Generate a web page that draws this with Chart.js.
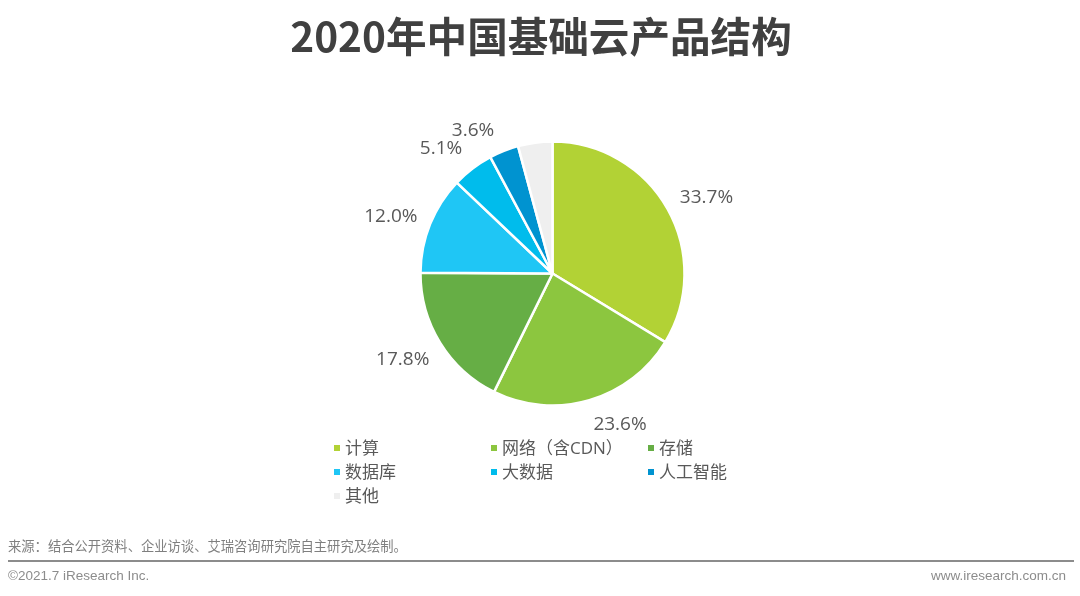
<!DOCTYPE html>
<html>
<head>
<meta charset="utf-8">
<script src="https://cdn.jsdelivr.net/npm/chart.js@4"></script>
<style>
  html, body { margin: 0; padding: 0; background: #fff; }
  #page { position: relative; width: 1080px; height: 596px; overflow: hidden; font-family: "Noto Sans CJK SC", sans-serif; }
  #page canvas { position: absolute; left: 0; top: 0; }
  .title { position: absolute; left: 0; width: 1082px; top: 7px; text-align: center; font-size: 40.6px; font-weight: 700; line-height: 56px; color: #404040; white-space: nowrap; }
  .source { position: absolute; left: 8px; top: 537px; font-size: 13.3px; line-height: 18px; color: #7f7f7f; white-space: nowrap; }
  .rule { position: absolute; left: 8px; width: 1066px; top: 560px; height: 2px; background: #8c8c8c; }
  .foot { position: absolute; top: 567.5px; font-family: "Liberation Sans", sans-serif; font-size: 13.5px; line-height: 15px; color: #8c8c8c; white-space: nowrap; }
  .legend-item { position: absolute; font-family: "Open Sans", "Noto Sans CJK SC", sans-serif; font-size: 17px; line-height: 24px; color: #595959; white-space: nowrap; }
  .legend-item i { position: absolute; left: -11px; top: 9px; width: 6px; height: 6px; }
</style>
</head>
<body>
<div id="page">
  <canvas id="pieChart" width="1080" height="596"></canvas>
  <div class="title">2020年中国基础云产品结构</div>
  <div id="legend"></div>
  <div class="source">来源：结合公开资料、企业访谈、艾瑞咨询研究院自主研究及绘制。</div>
  <div class="rule"></div>
  <div class="foot" style="left:8px">©2021.7 iResearch Inc.</div>
  <div class="foot" style="right:14px">www.iresearch.com.cn</div>
</div>
<script>
const categories = ['计算', '网络（含CDN）', '存储', '数据库', '大数据', '人工智能', '其他'];
const shares = [33.7, 23.6, 17.8, 12.0, 5.1, 3.6, 4.2];
const shareLabels = ['33.7%', '23.6%', '17.8%', '12.0%', '5.1%', '3.6%', ''];
const colors = ['#b2d235', '#8cc63f', '#66ae45', '#1fc6f5', '#00bcec', '#0093d0', '#efefef'];

// labels sit off the radial line in the original, so nudge them by hand
const labelNudgeX = [18, 24, -17, -17, -17, -22, 0];
const labelNudgeY = [1, 1, 4, 1, -1, 2, 0];

const legendCols = [345, 502, 659];
const legendRows = [436, 460, 484];

// html legend, chart.js legend can't do these uneven columns
const legendBox = document.getElementById('legend');
categories.forEach((name, i) => {
    const item = document.createElement('div');
    item.className = 'legend-item';
    item.style.left = legendCols[i % 3] + 'px';
    item.style.top = legendRows[Math.floor(i / 3)] + 'px';
    item.innerHTML = '<i style="background:' + colors[i] + '"></i>' + name;
    legendBox.appendChild(item);
});

const sliceLabels = {
    id: 'sliceLabels',
    afterDatasetsDraw(chart) {
        const ctx = chart.ctx;
        ctx.save();
        ctx.font = '19px "Open Sans", sans-serif';
        ctx.fillStyle = '#595959';
        ctx.textAlign = 'center';
        ctx.textBaseline = 'middle';
        chart.getDatasetMeta(0).data.forEach((arc, i) => {
            const mid = (arc.startAngle + arc.endAngle) / 2;
            const r = arc.outerRadius + 24;
            ctx.fillText(shareLabels[i],
                arc.x + Math.cos(mid) * r + labelNudgeX[i],
                arc.y + Math.sin(mid) * r + labelNudgeY[i]);
        });
        ctx.restore();
    }
};

new Chart(document.getElementById('pieChart').getContext('2d'), {
    type: 'pie',
    data: {
        labels: categories,
        datasets: [{
            data: shares,
            backgroundColor: colors,
            borderColor: '#ffffff',
            borderWidth: 2.5,
            radius: 132
        }]
    },
    options: {
        responsive: false,
        animation: false,
        layout: { padding: { left: 25, bottom: 49 } },
        plugins: {
            legend: { display: false },
            tooltip: { enabled: false }
        }
    },
    plugins: [sliceLabels]
});
</script>
</body>
</html>
